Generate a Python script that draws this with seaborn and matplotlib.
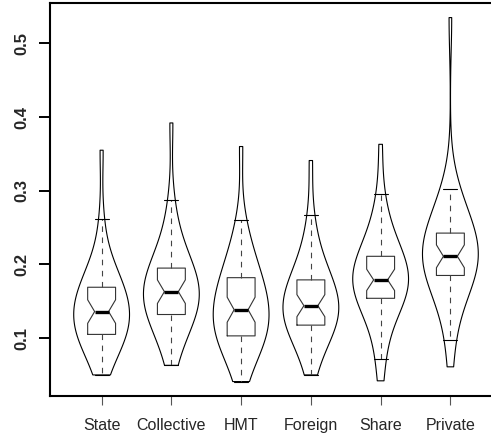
import numpy as np
import pandas as pd
import seaborn as sns
import matplotlib.pyplot as plt

# ownership groups
groups = ['State', 'Collective', 'HMT', 'Foreign', 'Share', 'Private']

# estimated sample values per group
state = [0.050, 0.066, 0.077, 0.085, 0.091, 0.096, 0.100, 0.104,
         0.107, 0.111, 0.115, 0.119, 0.123, 0.127, 0.131, 0.134,
         0.139, 0.143, 0.147, 0.151, 0.155, 0.159, 0.163, 0.167,
         0.172, 0.178, 0.185, 0.193, 0.203, 0.218, 0.261, 0.355]
collective = [0.063, 0.083, 0.097, 0.107, 0.115, 0.121, 0.126, 0.130,
              0.135, 0.139, 0.143, 0.147, 0.151, 0.155, 0.158, 0.161,
              0.165, 0.169, 0.173, 0.177, 0.181, 0.185, 0.189, 0.193,
              0.199, 0.206, 0.214, 0.224, 0.237, 0.255, 0.287, 0.392]
hmt = [0.041, 0.060, 0.074, 0.083, 0.090, 0.095, 0.099, 0.102,
       0.106, 0.110, 0.115, 0.120, 0.124, 0.129, 0.133, 0.137,
       0.142, 0.147, 0.152, 0.158, 0.163, 0.169, 0.174, 0.179,
       0.185, 0.192, 0.200, 0.210, 0.222, 0.238, 0.260, 0.360]
foreign = [0.050, 0.070, 0.083, 0.092, 0.100, 0.106, 0.111, 0.115,
           0.120, 0.123, 0.127, 0.130, 0.134, 0.137, 0.140, 0.143,
           0.147, 0.151, 0.155, 0.160, 0.165, 0.169, 0.173, 0.177,
           0.183, 0.190, 0.198, 0.208, 0.220, 0.238, 0.2665, 0.341]
share = [0.042, 0.072, 0.098, 0.115, 0.128, 0.138, 0.145, 0.151,
         0.156, 0.159, 0.162, 0.166, 0.169, 0.172, 0.175, 0.178,
         0.182, 0.186, 0.190, 0.194, 0.198, 0.202, 0.206, 0.209,
         0.215, 0.222, 0.230, 0.240, 0.253, 0.270, 0.295, 0.363]
private = [0.061, 0.098, 0.128, 0.148, 0.162, 0.171, 0.177, 0.182,
           0.188, 0.191, 0.194, 0.198, 0.201, 0.204, 0.207, 0.210,
           0.214, 0.218, 0.222, 0.226, 0.230, 0.234, 0.238, 0.241,
           0.248, 0.255, 0.263, 0.272, 0.282, 0.292, 0.303, 0.535]

# boxplot summaries
q1 = [0.105, 0.132, 0.103, 0.1176, 0.154, 0.185]
med = [0.136, 0.163, 0.1385, 0.144, 0.179, 0.211]
q3 = [0.169, 0.195, 0.182, 0.179, 0.211, 0.2425]
whis_lo = [0.050, 0.063, 0.041, 0.050, 0.072, 0.098]
whis_hi = [0.261, 0.287, 0.260, 0.2665, 0.295, 0.303]
notch_half = [0.016, 0.016, 0.017, 0.015, 0.0145, 0.0155]

y_ticks = [0.1, 0.2, 0.3, 0.4, 0.5]

df = pd.DataFrame({
    'group': np.repeat(groups, [len(v) for v in [state, collective, hmt, foreign, share, private]]),
    'value': state + collective + hmt + foreign + share + private,
})

sns.set_style('ticks')
plt.rcParams['font.family'] = ['Liberation Sans', 'DejaVu Sans']

fig = plt.figure(figsize=(4.91, 4.38), dpi=100)
ax = fig.add_axes([50 / 491, 42 / 438, 452 / 491, 393 / 438])

sns.violinplot(data=df, x='group', y='value', order=groups, ax=ax,
               cut=0, inner=None, fill=False, color='black', linewidth=0.8,
               density_norm='width', width=0.8, bw_adjust=1.15, gridsize=200)

stats = []
for i, g in enumerate(groups):
    stats.append({'label': g, 'med': med[i], 'q1': q1[i], 'q3': q3[i],
                  'whislo': whis_lo[i], 'whishi': whis_hi[i],
                  'cilo': med[i] - notch_half[i], 'cihi': med[i] + notch_half[i],
                  'fliers': []})

ax.bxp(stats, positions=range(len(groups)), widths=0.4, capwidths=0.2,
       shownotches=True, showfliers=False, manage_ticks=False,
       boxprops=dict(color='#333333', linewidth=0.8),
       medianprops=dict(color='black', linewidth=2.4, solid_capstyle='butt'),
       whiskerprops=dict(color='#444444', linewidth=0.8, linestyle=(0, (5, 5))),
       capprops=dict(color='black', linewidth=0.8))

ax.set_xlim(-0.74, 5.74)
ax.set_ylim(0.0214, 0.5548)
ax.set_xlabel('')
ax.set_ylabel('')
ax.set_yticks(y_ticks)
ax.set_yticklabels([str(t) for t in y_ticks], rotation=90, va='center',
                   fontsize=12, fontweight='bold')
ax.set_xticks(range(len(groups)))
ax.set_xticklabels(groups, fontsize=11.5)
ax.tick_params(axis='y', length=8, width=1.4, pad=7, color='black')
ax.tick_params(axis='x', length=6.5, width=0.8, pad=9, color='#555555')

for side in ['left', 'top', 'bottom', 'right']:
    ax.spines[side].set_visible(True)
    ax.spines[side].set_linewidth(1.5)
    ax.spines[side].set_color('black')

fig.savefig('out.png', dpi=100)
